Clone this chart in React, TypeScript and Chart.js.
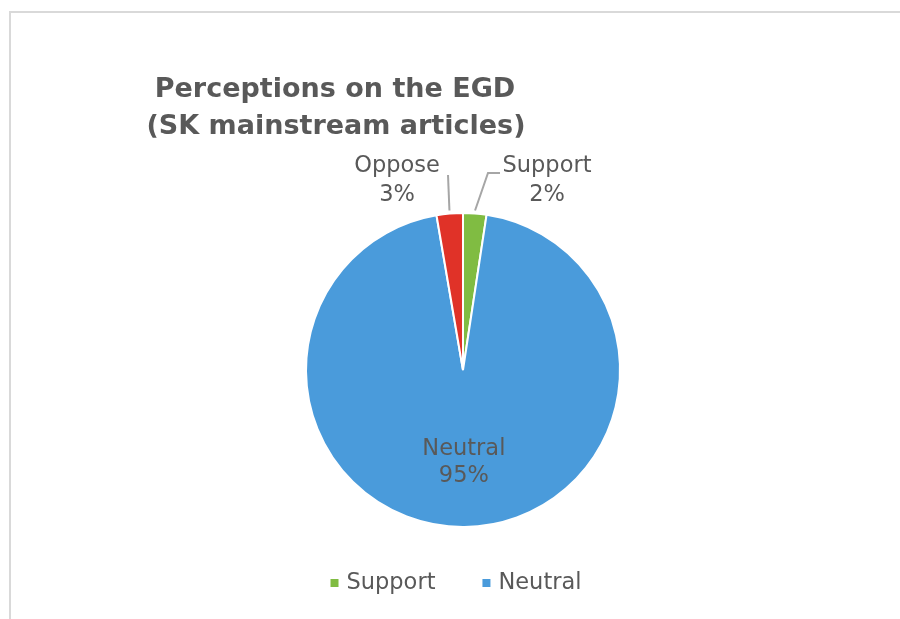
import React, { useEffect, useRef } from "react";
import { Chart, registerables } from "chart.js";

Chart.register(...registerables);

const categories = ["Support", "Neutral", "Oppose"];
const values = [2.4, 94.9, 2.7];
const colors = ["#80BC42", "#4A9BDB", "#E03228"];
const legendCategories = ["Support", "Neutral"];
const titleLines = ["Perceptions on the EGD", "(SK mainstream articles)"];

const FONT = "'DejaVu Sans', sans-serif";
const TEXT = "#595959";
const LEADER = "#A6A6A6";

// label layout (offsets relative to the pie centre), not data
const labelLayout: Record<string, any> = {
  Support: { mode: "outside", tx: 84, ty1: -204, ty2: -175, leader: [[37, -197], [25, -197]] },
  Oppose: { mode: "outside", tx: -66, ty1: -204, ty2: -175, leader: [[-15, -195]] },
  Neutral: { mode: "inside", frac: 0.59 },
};

const decorPlugin = {
  id: "decor",
  beforeDraw(chart: any) {
    const ctx = chart.ctx;
    ctx.save();
    ctx.fillStyle = "#ffffff";
    ctx.fillRect(0, 0, chart.width, chart.height);
    ctx.strokeStyle = "#D9D9D9";
    ctx.lineWidth = 2;
    ctx.beginPath();
    ctx.moveTo(10, chart.height + 5);
    ctx.lineTo(10, 12);
    ctx.lineTo(chart.width + 5, 12);
    ctx.stroke();
    ctx.fillStyle = TEXT;
    ctx.font = `bold 27px ${FONT}`;
    ctx.textAlign = "center";
    ctx.textBaseline = "alphabetic";
    ctx.fillText(titleLines[0], 335, 97);
    ctx.fillText(titleLines[1], 336, 134);
    ctx.restore();
  },
  afterDatasetsDraw(chart: any) {
    const ctx = chart.ctx;
    const meta = chart.getDatasetMeta(0);
    const data: number[] = chart.data.datasets[0].data;
    const labels: string[] = chart.data.labels;
    const total = data.reduce((a, b) => a + b, 0);
    ctx.save();
    ctx.font = `22.5px ${FONT}`;
    ctx.fillStyle = TEXT;
    ctx.textAlign = "center";
    ctx.textBaseline = "middle";
    meta.data.forEach((arc: any, i: number) => {
      const p = arc.getProps(["x", "y", "startAngle", "endAngle", "outerRadius"], true);
      const mid = (p.startAngle + p.endAngle) / 2;
      const name = labels[i];
      const pct = Math.round((data[i] / total) * 100) + "%";
      const lay = labelLayout[name];
      if (!lay) return;
      if (lay.mode === "inside") {
        const x = p.x + Math.cos(mid) * p.outerRadius * lay.frac;
        const y = p.y + Math.sin(mid) * p.outerRadius * lay.frac;
        ctx.fillText(name, x, y - 13);
        ctx.fillText(pct, x, y + 14);
      } else {
        ctx.fillText(name, p.x + lay.tx, p.y + lay.ty1);
        ctx.fillText(pct, p.x + lay.tx, p.y + lay.ty2);
        const ax = p.x + Math.cos(mid) * (p.outerRadius + 3);
        const ay = p.y + Math.sin(mid) * (p.outerRadius + 3);
        ctx.save();
        ctx.strokeStyle = LEADER;
        ctx.lineWidth = 2;
        ctx.beginPath();
        lay.leader.forEach((pt: number[], k: number) => {
          if (k === 0) ctx.moveTo(p.x + pt[0], p.y + pt[1]);
          else ctx.lineTo(p.x + pt[0], p.y + pt[1]);
        });
        ctx.lineTo(ax, ay);
        ctx.stroke();
        ctx.restore();
      }
    });
    ctx.restore();
  },
  afterDraw(chart: any) {
    const ctx = chart.ctx;
    const labels: string[] = chart.data.labels;
    const bg: string[] = chart.data.datasets[0].backgroundColor;
    ctx.save();
    ctx.font = `22.5px ${FONT}`;
    ctx.textBaseline = "middle";
    ctx.textAlign = "left";
    const box = 8, gapBox = 8, gapItem = 47;
    const widths = legendCategories.map((n) => box + gapBox + ctx.measureText(n).width);
    const totalW = widths.reduce((a, b) => a + b, 0) + gapItem * (widths.length - 1);
    let x = 456 - totalW / 2;
    const y = 583;
    legendCategories.forEach((n, k) => {
      const idx = labels.indexOf(n);
      ctx.fillStyle = bg[idx];
      ctx.fillRect(x, y - 4, box, box);
      ctx.fillStyle = TEXT;
      ctx.fillText(n, x + box + gapBox, y);
      x += widths[k] + gapItem;
    });
    ctx.restore();
  },
};

export default function App() {
  const ref = useRef<HTMLCanvasElement | null>(null);
  useEffect(() => {
    if (!ref.current) return;
    const chart = new Chart(ref.current, {
      type: "pie",
      data: {
        labels: categories,
        datasets: [
          {
            data: values,
            backgroundColor: colors,
            borderColor: "#ffffff",
            borderWidth: 2,
          },
        ],
      },
      options: {
        responsive: false,
        animation: false,
        layout: { padding: { left: 305, right: 279, top: 178, bottom: 57 } },
        plugins: {
          legend: { display: false },
          title: { display: false },
          tooltip: { enabled: false },
        },
      },
      plugins: [decorPlugin],
    });
    return () => chart.destroy();
  }, []);
  return (
    <div style={{ position: "absolute", left: 0, top: 0, width: 900, height: 619 }}>
      <canvas ref={ref} width={900} height={619} />
    </div>
  );
}
